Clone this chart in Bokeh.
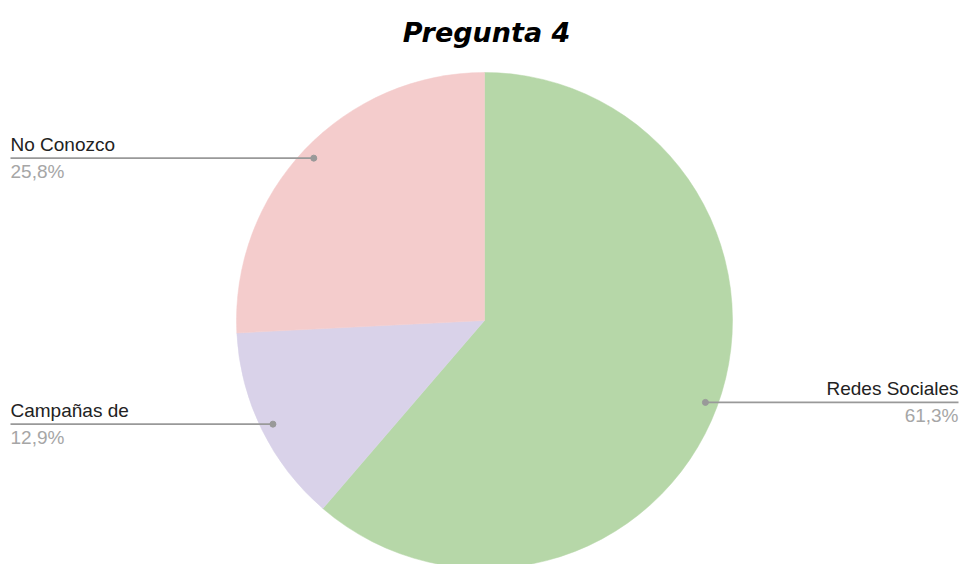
import math
from bokeh.plotting import figure
from bokeh.models import Range1d, ColumnDataSource
from bokeh.core.properties import value
from bokeh.embed import file_html
from bokeh.resources import INLINE

# ---- data ----
categories = ["Redes Sociales", "Campañas de", "No Conozco"]
percents = [61.3, 12.9, 25.8]
pct_labels = ["61,3%", "12,9%", "25,8%"]
colors = ["#b6d7a8", "#d9d2e9", "#f4cccc"]
title_text = "Pregunta 4"

# ---- layout (page pixels -> data units, radius = 1) ----
S = 248.0              # pixels per data unit
CX, CY = 484.0, 320.0  # pie centre in the picture
W, H = 962, 564
OX, OY = 0.0, 0.0


def dx(px):
    return (px - CX) / S


def dy(py):
    return (CY - py) / S


p = figure(width=W, height=H, output_backend="svg", toolbar_location=None,
           x_range=Range1d(dx(OX), dx(OX + W)), y_range=Range1d(dy(OY + H), dy(OY)),
           min_border=0)
p.axis.visible = False
p.grid.visible = False
p.outline_line_color = None
p.background_fill_color = "white"
p.border_fill_color = "white"

total = sum(percents)
starts, ends, mids = [], [], []
cum = 0.0
for v in percents:
    a0 = math.pi / 2 - 2 * math.pi * (cum + v) / total
    a1 = math.pi / 2 - 2 * math.pi * cum / total
    starts.append(a0)
    ends.append(a1)
    mids.append((a0 + a1) / 2)
    cum += v

src = ColumnDataSource(dict(start=starts, end=ends, color=colors))
p.wedge(x=0, y=0, radius=1.0, start_angle="start", end_angle="end",
        fill_color="color", line_color="color", line_width=0.5, source=src)

# ---- leader lines and labels ----
r_dot = 0.95
dot_x, dot_y, line_x0, line_x1, line_y = [], [], [], [], []
lab_x, lab_align = [], []
for m in mids:
    x = r_dot * math.cos(m)
    y = r_dot * math.sin(m)
    dot_x.append(x)
    dot_y.append(y)
    if x >= 0:
        edge = dx(958)
        lab_align.append("right")
    else:
        edge = dx(10)
        lab_align.append("left")
    lab_x.append(edge)
    line_x0.append(x)
    line_x1.append(edge)
    line_y.append(y)

p.segment(x0=line_x0, y0=line_y, x1=line_x1, y1=line_y, line_color="#999999", line_width=1.6)
p.scatter(x=dot_x, y=dot_y, size=6, color="#999999")

lsrc = ColumnDataSource(dict(x=lab_x, y=[v + 14 / S for v in line_y], text=categories, align=lab_align))
p.text(x="x", y="y", text="text", text_align="align", text_baseline="alphabetic",
       text_font=value("Liberation Sans"), text_font_size="19px", text_color="#222222", source=lsrc)

psrc = ColumnDataSource(dict(x=lab_x, y=[v - 13 / S for v in line_y], text=pct_labels, align=lab_align))
p.text(x="x", y="y", text="text", text_align="align", text_baseline="alphabetic",
       text_font=value("Liberation Sans"), text_font_size="19px", text_color="#a6a6a6", source=psrc)

# ---- title ----
p.text(x=[dx(486)], y=[dy(32)], text=[title_text], text_align="center", text_baseline="alphabetic",
       text_font=value("DejaVu Sans"), text_font_style="bold italic", text_font_size="27px",
       text_color="#000000")

open("out.html", "w").write(file_html(p, INLINE))
